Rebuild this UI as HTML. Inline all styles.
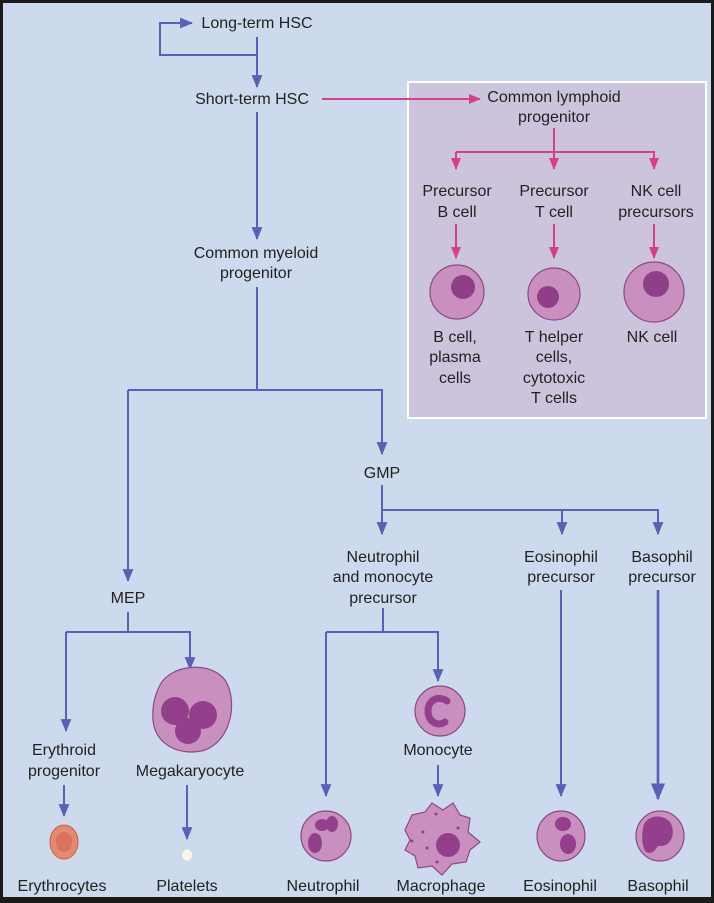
<!DOCTYPE html>
<html><head><meta charset="utf-8"><style>
html,body{margin:0;padding:0;background:#1a1a1a}
svg{display:block}
text{font-family:"Liberation Sans",sans-serif;font-size:16px;fill:#222;text-anchor:middle}
</style></head><body>
<svg width="714" height="903" viewBox="0 0 714 903" xmlns="http://www.w3.org/2000/svg">
<defs>
<marker id="b" viewBox="0 0 12 10" refX="11" refY="5" markerWidth="6.5" markerHeight="5.5" orient="auto"><path d="M0,0L12,5L0,10z" fill="#5a60b4"/></marker>
<marker id="p" viewBox="0 0 12 10" refX="11" refY="5" markerWidth="6" markerHeight="5" orient="auto"><path d="M0,0L12,5L0,10z" fill="#d4408f"/></marker>
</defs>
<rect x="3" y="3" width="708" height="894" fill="#cdd9ec"/>
<rect x="408" y="82" width="298" height="336" fill="#ccc4dc" stroke="#fff" stroke-width="2"/>
<g fill="none" stroke="#5a60b4" stroke-width="2">
<path d="M257,37V55H160V23H192" marker-end="url(#b)"/>
<path d="M257,55V87" marker-end="url(#b)"/>
<path d="M257,112V239" marker-end="url(#b)"/>
<path d="M257,287V390"/>
<path d="M128,390H382V454" marker-end="url(#b)"/>
<path d="M128,390V581" marker-end="url(#b)"/>
<path d="M382,485V534" marker-end="url(#b)"/>
<path d="M382,510H658V534" marker-end="url(#b)"/>
<path d="M562,510V534" marker-end="url(#b)"/>
<path d="M128,612V632"/>
<path d="M66,632H190V669" marker-end="url(#b)"/>
<path d="M66,632V731" marker-end="url(#b)"/>
<path d="M64,785V816" marker-end="url(#b)"/>
<path d="M187,785V839" marker-end="url(#b)"/>
<path d="M383,608V632"/>
<path d="M326,632H438V681" marker-end="url(#b)"/>
<path d="M326,632V796" marker-end="url(#b)"/>
<path d="M438,765V796" marker-end="url(#b)"/>
<path d="M561,590V796" marker-end="url(#b)"/>
<path d="M658,590V799" marker-end="url(#b)" stroke-width="2.6"/>
</g>
<g fill="none" stroke="#d4408f" stroke-width="2">
<path d="M322,99H480" marker-end="url(#p)"/>
<path d="M554,128V152"/>
<path d="M456,152H654V169" marker-end="url(#p)"/>
<path d="M456,152V169" marker-end="url(#p)"/>
<path d="M554,152V169" marker-end="url(#p)"/>
<path d="M456,224V258" marker-end="url(#p)"/>
<path d="M554,224V258" marker-end="url(#p)"/>
<path d="M654,224V258" marker-end="url(#p)"/>
</g>
<g stroke="#8a4a85" stroke-width="1.2">
<circle cx="457" cy="292" r="27" fill="#c98fbf"/><circle cx="463" cy="287" r="12" fill="#8f3f88" stroke="none"/>
<circle cx="554" cy="294" r="26" fill="#c98fbf"/><circle cx="548" cy="297" r="11" fill="#8f3f88" stroke="none"/>
<circle cx="654" cy="292" r="30" fill="#c98fbf"/><circle cx="656" cy="284" r="13" fill="#8f3f88" stroke="none"/>
<path d="M160,685C170,665 210,660 225,680C238,700 232,740 205,750C180,757 155,745 153,720C152,705 155,695 160,685Z" fill="#c98fbf"/>
<g stroke="none" fill="#933f8c"><circle cx="175" cy="711" r="14"/><circle cx="203" cy="715" r="14"/><circle cx="188" cy="731" r="13"/></g>
<circle cx="440" cy="711" r="25" fill="#c98fbf"/>
<path d="M447,701C438,695 428,700 428,711C428,722 438,727 445,722" fill="none" stroke="#933f8c" stroke-width="7" stroke-linecap="round"/>
<ellipse cx="326" cy="836" rx="25" ry="25" fill="#c98fbf"/>
<g stroke="none" fill="#933f8c"><ellipse cx="322" cy="825" rx="7" ry="6"/><ellipse cx="332" cy="824" rx="6" ry="8"/><ellipse cx="315" cy="843" rx="7" ry="10"/></g>
<path d="M412,815L425,812L432,803L443,810L453,803L460,815L470,818L468,832L480,842L470,850L466,862L452,864L442,875L432,866L418,868L415,856L405,850L410,840L405,830Z" fill="#c98fbf"/>
<circle cx="448" cy="845" r="12" fill="#933f8c" stroke="none"/>
<g stroke="none" fill="#933f8c"><circle cx="436" cy="814" r="1.5"/><circle cx="423" cy="832" r="1.5"/><circle cx="427" cy="848" r="1.5"/><circle cx="458" cy="828" r="1.5"/><circle cx="437" cy="862" r="1.5"/><circle cx="412" cy="841" r="1.5"/></g>
<ellipse cx="561" cy="836" rx="24" ry="25" fill="#c98fbf"/>
<g stroke="none" fill="#933f8c"><ellipse cx="563" cy="824" rx="8" ry="7"/><ellipse cx="568" cy="844" rx="8" ry="10"/></g>
<ellipse cx="660" cy="836" rx="24" ry="25" fill="#c98fbf"/>
<path d="M643,828C645,815 662,813 670,822C676,832 672,845 662,846L658,846C655,850 653,855 646,852C641,845 642,835 643,828Z" fill="#933f8c" stroke="none"/>
</g>
<ellipse cx="64" cy="842" rx="14" ry="17" fill="#e38a72" stroke="#c85e45"/>
<ellipse cx="64" cy="842" rx="8" ry="10" fill="#d9735e"/>
<ellipse cx="187" cy="855" rx="5" ry="5.5" fill="#fbf6e6"/>
<text x="257" y="28">Long-term HSC</text>
<text x="252" y="104">Short-term HSC</text>
<text x="554" y="102">Common lymphoid</text>
<text x="554" y="122">progenitor</text>
<text x="457" y="196">Precursor</text><text x="457" y="217">B cell</text>
<text x="554" y="196">Precursor</text><text x="554" y="217">T cell</text>
<text x="656" y="196">NK cell</text><text x="656" y="217">precursors</text>
<text x="455" y="342">B cell,</text><text x="455" y="362">plasma</text><text x="455" y="383">cells</text>
<text x="554" y="342">T helper</text><text x="554" y="362">cells,</text><text x="554" y="383">cytotoxic</text><text x="554" y="403">T cells</text>
<text x="652" y="342">NK cell</text>
<text x="256" y="258">Common myeloid</text><text x="256" y="278">progenitor</text>
<text x="382" y="478">GMP</text>
<text x="383" y="562">Neutrophil</text><text x="383" y="582">and monocyte</text><text x="383" y="603">precursor</text>
<text x="561" y="562">Eosinophil</text><text x="561" y="582">precursor</text>
<text x="662" y="562">Basophil</text><text x="662" y="582">precursor</text>
<text x="128" y="603">MEP</text>
<text x="64" y="755">Erythroid</text><text x="64" y="776">progenitor</text>
<text x="190" y="776">Megakaryocyte</text>
<text x="438" y="755">Monocyte</text>
<text x="62" y="891">Erythrocytes</text><text x="187" y="891">Platelets</text><text x="323" y="891">Neutrophil</text><text x="441" y="891">Macrophage</text><text x="560" y="891">Eosinophil</text><text x="658" y="891">Basophil</text>
</svg>
</body></html>
